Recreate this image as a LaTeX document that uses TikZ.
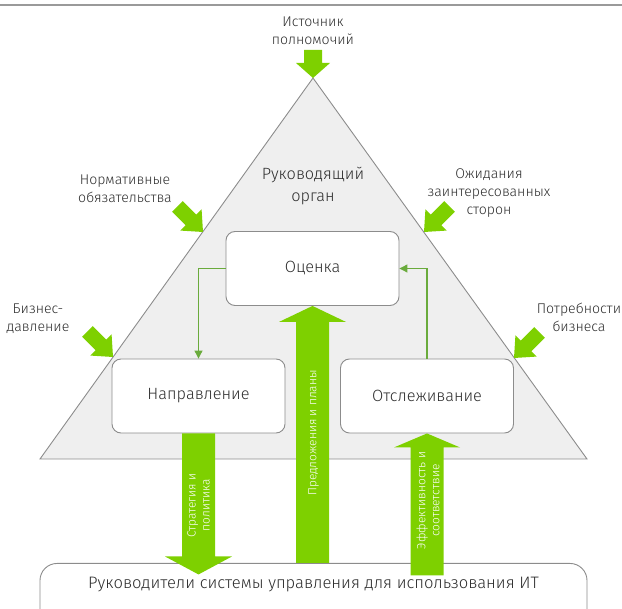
\documentclass[tikz,border=0pt]{standalone}
\usepackage{fontspec}
\setmainfont{Fira Sans Light}
\usetikzlibrary{calc,arrows.meta}

\definecolor{rulegray}{HTML}{9A9A9A}
\definecolor{edgegray}{HTML}{8C8C8C}
\definecolor{trifill}{HTML}{EFEFEF}
\definecolor{leafgreen}{HTML}{7ED000}
\definecolor{linkgreen}{HTML}{6AAB3C}
\definecolor{inkgray}{HTML}{2E2E2E}

% Block arrow from #1 to the tip #2: half shaft width #3, half head width #4,
% head length #5; #6 names the helper coordinate at the base of the head.
\newcommand\blockarrow[6]{%
  \coordinate (#6-h) at ($(#2)!#5!(#1)$);
  \fill[leafgreen]
    ($(#1)!#3!90:(#2)$) -- ($(#6-h)!#3!90:(#2)$) -- ($(#6-h)!#4!90:(#2)$)
    -- (#2)
    -- ($(#6-h)!#4!-90:(#2)$) -- ($(#6-h)!#3!-90:(#2)$) -- ($(#1)!#3!-90:(#2)$)
    -- cycle;
}

\begin{document}
\begin{tikzpicture}[x=1pt,y=-1pt,
  stagebox/.style={draw=edgegray, fill=white, line width=0.9pt, rounded corners=9pt,
    minimum width=173pt, minimum height=74pt, text=inkgray,
    font=\fontsize{16.3}{18}\selectfont},
  caption/.style={align=center, text=inkgray, font=\fontsize{14.1}{18}\selectfont},
  arrowtext/.style={text=white, rotate=90, align=center,
    font=\fontsize{11.9}{14}\selectfont},
  link/.style={draw=linkgreen, line width=1.1pt, -{Triangle[length=8pt,width=8pt]}},
]
\useasboundingbox (0,0) rectangle (622,609);

% top rule
\draw[rulegray, line width=2.5pt] (0,5) -- (622,5);

% governing body triangle
\coordinate (apex) at (313,78);
\coordinate (baseL) at (40,459);
\coordinate (baseR) at (587,459);
\filldraw[fill=trifill, draw=edgegray, line width=0.9pt] (baseL) -- (apex) -- (baseR) -- cycle;
\node[caption, font=\fontsize{16.3}{22}\selectfont] (body) at (313,186) {Руководящий\\орган};

% activity boxes
\node[stagebox] (ocenka) at (312.5,268.5) {Оценка};
\node[stagebox] (napr) at (198.5,396) {Направление};
\node[stagebox] (otsl) at (427,396) {Отслеживание};

% managers box (runs past the lower edge)
\node[draw=edgegray, fill=white, line width=0.9pt, rounded corners=17pt,
  minimum width=547pt, minimum height=70pt, anchor=north] (mgr) at (313.5,563) {};
\node[text=inkgray, font=\fontsize{16.6}{18}\selectfont, anchor=center] (mgrtext)
  at ($(mgr.north)+(0,22)$) {Руководители системы управления для использования ИТ};

% feedback links
\draw[link] (ocenka.west) -| (napr.north);
\draw[link] (otsl.north) |- (ocenka.east);

% main flows
\coordinate (strat-tip) at ($(napr.south)+(0,141)$);
\blockarrow{napr.south}{strat-tip}{16.5pt}{33.5pt}{18pt}{strat}
\node[arrowtext] (strat) at ($(napr.south)+(0,72)$) {Стратегия и\\политика};

\coordinate (plan-base) at (ocenka.south |- mgr.north);
\blockarrow{plan-base}{ocenka.south}{16.5pt}{33.5pt}{16pt}{plan}
\node[arrowtext] (plan) at ($(ocenka.south)+(1,127)$) {Предложения и планы};

\coordinate (eff-base) at ($(otsl.south)+(0,142)$);
\blockarrow{eff-base}{otsl.south}{16.5pt}{33pt}{14pt}{eff}
\node[arrowtext] (eff) at ($(otsl.south)+(1,67)$) {Эффективность и\\соответствие};

% external inputs
\node[caption] (src) at (313,31) {Источник\\полномочий};
\coordinate (src-tip) at (apex);
\coordinate (src-tail) at ($(apex)+(0,-28)$);
\blockarrow{src-tail}{src-tip}{9pt}{17pt}{15pt}{srca}

\node[caption] (norm) at (125,189) {Нормативные\\обязательства};
\coordinate (norm-tip) at (203,232);
\coordinate (norm-tail) at ($(norm-tip)+(-25.5,-25.5)$);
\blockarrow{norm-tail}{norm-tip}{7.5pt}{15pt}{17pt}{norma}

\node[caption] (press) at (38,319) {Бизнес-\\давление};
\coordinate (press-tip) at (113,357);
\coordinate (press-tail) at ($(press-tip)+(-25.5,-25.5)$);
\blockarrow{press-tail}{press-tip}{7.5pt}{15pt}{17pt}{pressa}

\node[caption] (stake) at (489,193) {Ожидания\\заинтересованных\\сторон};
\coordinate (stake-tip) at (424,232);
\coordinate (stake-tail) at ($(stake-tip)+(25.5,-25.5)$);
\blockarrow{stake-tail}{stake-tip}{7.5pt}{15pt}{17pt}{stakea}

\node[caption] (needs) at (579,317) {Потребности\\бизнеса};
\coordinate (needs-tip) at (514,358);
\coordinate (needs-tail) at ($(needs-tip)+(25.5,-25.5)$);
\blockarrow{needs-tail}{needs-tip}{7.5pt}{15pt}{17pt}{needsa}
\end{tikzpicture}
\end{document}
